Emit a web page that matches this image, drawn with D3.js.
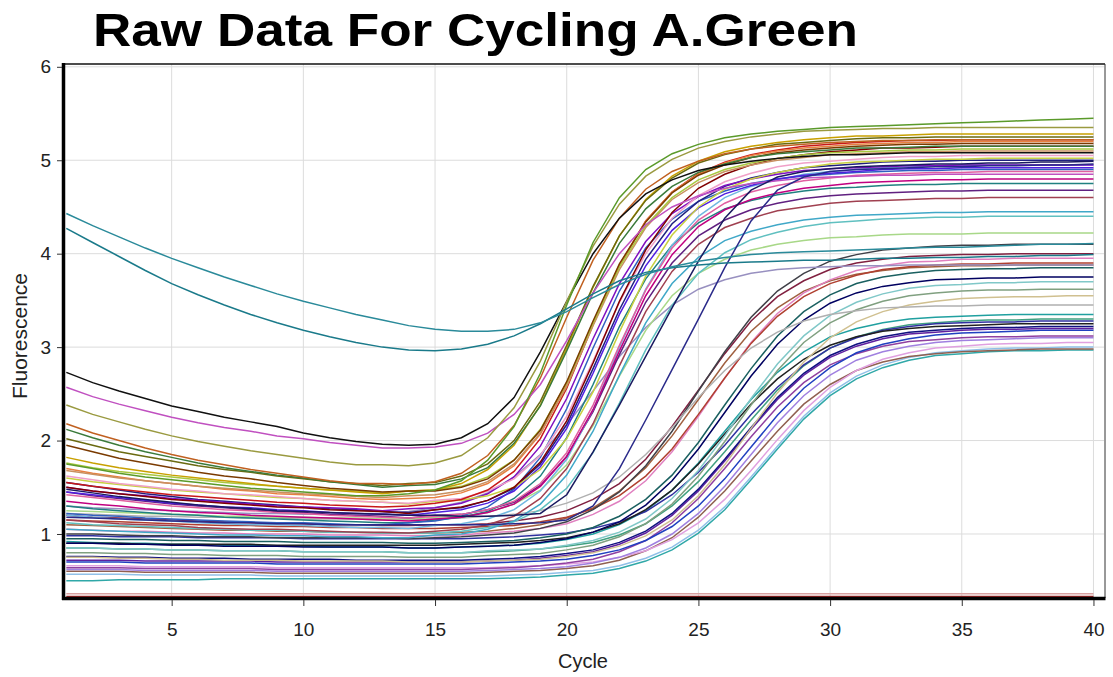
<!DOCTYPE html>
<html><head><meta charset="utf-8">
<script src="https://cdn.jsdelivr.net/npm/d3@7"></script>
<style>body{margin:0;background:#fff}svg{display:block}</style>
</head><body><svg id="c" width="1113" height="677"></svg>
<script>
const cycles=[1,2,3,4,5,6,7,8,9,10,11,12,13,14,15,16,17,18,19,20,21,22,23,24,25,26,27,28,29,30,31,32,33,34,35,36,37,38,39,40];
const xTicks=[5,10,15,20,25,30,35,40];
const yTicks=[1,2,3,4,5,6];
// early amplifying wells
const e01=[1.75,1.70,1.65,1.61,1.58,1.55,1.52,1.49,1.47,1.45,1.43,1.41,1.41,1.43,1.47,1.57,1.79,2.15,2.72,3.45,4.12,4.60,4.90,5.07,5.17,5.24,5.28,5.31,5.33,5.35,5.36,5.37,5.38,5.39,5.40,5.41,5.42,5.43,5.44,5.45];
const e02=[2.38,2.28,2.20,2.12,2.05,1.99,1.94,1.89,1.85,1.81,1.77,1.74,1.74,1.73,1.76,1.84,2.03,2.35,2.85,3.49,4.08,4.53,4.83,5.01,5.13,5.20,5.25,5.28,5.31,5.32,5.33,5.34,5.34,5.35,5.35,5.35,5.35,5.35,5.35,5.35];
const e03=[2.73,2.62,2.53,2.45,2.37,2.31,2.25,2.20,2.15,2.08,2.03,1.99,1.96,1.95,1.96,2.03,2.18,2.46,2.95,3.49,4.00,4.38,4.64,4.79,4.89,4.95,4.99,5.02,5.04,5.06,5.06,5.07,5.08,5.08,5.08,5.08,5.08,5.08,5.08,5.08];
const e04=[2.57,2.47,2.39,2.32,2.25,2.19,2.14,2.10,2.05,2.02,1.98,1.95,1.92,1.92,1.93,1.97,2.08,2.28,2.60,3.07,3.58,4.00,4.31,4.50,4.62,4.70,4.75,4.78,4.81,4.82,4.83,4.84,4.84,4.85,4.85,4.85,4.85,4.85,4.85,4.85];
const e05=[2.18,2.08,2.00,1.92,1.85,1.79,1.74,1.69,1.65,1.61,1.57,1.54,1.54,1.53,1.56,1.65,1.84,2.16,2.67,3.32,3.93,4.38,4.69,4.88,4.99,5.07,5.12,5.15,5.17,5.19,5.20,5.21,5.21,5.22,5.22,5.22,5.22,5.22,5.22,5.22];
const e06=[2.12,2.03,1.95,1.88,1.82,1.76,1.71,1.67,1.63,1.60,1.56,1.53,1.50,1.52,1.53,1.59,1.71,1.97,2.37,2.96,3.58,4.11,4.48,4.72,4.87,4.96,5.03,5.07,5.09,5.11,5.13,5.13,5.14,5.15,5.15,5.15,5.15,5.15,5.15,5.15];
const e07=[2.02,1.95,1.88,1.83,1.78,1.73,1.69,1.66,1.62,1.59,1.56,1.54,1.52,1.54,1.55,1.62,1.75,2.00,2.42,3.02,3.65,4.19,4.57,4.81,4.97,5.06,5.12,5.17,5.19,5.21,5.23,5.24,5.24,5.25,5.25,5.25,5.25,5.25,5.25,5.25];
const e08=[1.95,1.88,1.81,1.76,1.71,1.66,1.62,1.59,1.55,1.52,1.49,1.47,1.45,1.46,1.46,1.50,1.59,1.79,2.11,2.63,3.28,3.89,4.34,4.65,4.84,4.95,5.03,5.08,5.11,5.13,5.15,5.16,5.17,5.17,5.18,5.18,5.18,5.18,5.18,5.18];
const e09=[1.82,1.76,1.71,1.67,1.63,1.60,1.57,1.54,1.51,1.49,1.47,1.45,1.43,1.46,1.47,1.54,1.69,1.95,2.38,2.99,3.64,4.19,4.58,4.83,4.99,5.09,5.15,5.19,5.22,5.24,5.26,5.26,5.27,5.28,5.28,5.28,5.28,5.28,5.28,5.28];
const e10=[1.76,1.71,1.67,1.64,1.61,1.58,1.55,1.53,1.51,1.49,1.47,1.46,1.44,1.46,1.47,1.51,1.61,1.79,2.12,2.62,3.26,3.86,4.30,4.60,4.79,4.90,4.97,5.02,5.06,5.08,5.09,5.10,5.11,5.11,5.12,5.12,5.12,5.12,5.12,5.12];
const e11=[1.70,1.65,1.61,1.57,1.54,1.51,1.48,1.46,1.43,1.42,1.40,1.38,1.37,1.38,1.39,1.44,1.54,1.73,2.07,2.60,3.26,3.88,4.35,4.66,4.85,4.97,5.05,5.10,5.13,5.15,5.17,5.18,5.19,5.19,5.20,5.20,5.20,5.20,5.20,5.20];
const e12=[1.55,1.51,1.48,1.45,1.42,1.40,1.38,1.36,1.34,1.33,1.31,1.30,1.29,1.30,1.33,1.37,1.47,1.67,2.02,2.56,3.24,3.87,4.35,4.66,4.86,4.98,5.06,5.11,5.15,5.17,5.19,5.20,5.21,5.21,5.22,5.22,5.22,5.22,5.22,5.22];
const e13=[1.50,1.46,1.43,1.40,1.37,1.35,1.33,1.31,1.29,1.28,1.26,1.25,1.24,1.22,1.26,1.29,1.36,1.50,1.77,2.21,2.83,3.49,4.04,4.44,4.70,4.85,4.95,5.02,5.06,5.09,5.11,5.13,5.13,5.14,5.15,5.15,5.15,5.15,5.15,5.15];
const e14=[1.50,1.46,1.43,1.41,1.38,1.36,1.34,1.32,1.30,1.29,1.28,1.27,1.25,1.27,1.28,1.33,1.43,1.61,1.94,2.45,3.09,3.68,4.13,4.43,4.61,4.73,4.80,4.85,4.89,4.91,4.92,4.93,4.94,4.94,4.95,4.95,4.95,4.95,4.95,4.95];
const e15=[1.45,1.42,1.39,1.36,1.33,1.31,1.29,1.28,1.26,1.25,1.23,1.22,1.21,1.20,1.23,1.26,1.33,1.46,1.72,2.13,2.72,3.35,3.87,4.25,4.49,4.64,4.73,4.80,4.84,4.86,4.88,4.90,4.91,4.91,4.92,4.92,4.92,4.92,4.92,4.92];
const e16=[1.55,1.51,1.47,1.43,1.40,1.37,1.35,1.33,1.31,1.29,1.27,1.26,1.24,1.23,1.26,1.28,1.36,1.49,1.75,2.17,2.77,3.40,3.94,4.32,4.56,4.72,4.81,4.87,4.92,4.94,4.96,4.98,4.99,4.99,5.00,5.00,5.00,5.00,5.00,5.00];
const e17=[1.42,1.39,1.36,1.33,1.30,1.28,1.26,1.25,1.23,1.22,1.20,1.19,1.18,1.17,1.19,1.21,1.26,1.35,1.54,1.87,2.38,3.02,3.61,4.06,4.36,4.54,4.66,4.73,4.78,4.81,4.84,4.85,4.86,4.87,4.87,4.88,4.88,4.88,4.88,4.88];
const e18=[1.35,1.32,1.30,1.27,1.25,1.23,1.22,1.20,1.19,1.18,1.17,1.16,1.15,1.14,1.16,1.18,1.23,1.32,1.51,1.83,2.33,2.96,3.55,3.99,4.29,4.47,4.58,4.65,4.70,4.73,4.76,4.77,4.78,4.79,4.79,4.80,4.80,4.80,4.80,4.80];
const e19=[1.22,1.20,1.19,1.17,1.16,1.15,1.14,1.13,1.12,1.12,1.11,1.10,1.10,1.12,1.14,1.19,1.29,1.48,1.82,2.34,2.99,3.60,4.06,4.37,4.56,4.67,4.75,4.80,4.83,4.85,4.87,4.88,4.89,4.89,4.90,4.90,4.90,4.90,4.90,4.90];
const e20=[1.20,1.18,1.16,1.15,1.14,1.12,1.11,1.10,1.10,1.09,1.08,1.07,1.07,1.06,1.09,1.11,1.16,1.26,1.46,1.80,2.33,3.00,3.62,4.09,4.40,4.60,4.72,4.79,4.85,4.88,4.90,4.92,4.93,4.94,4.94,4.95,4.95,4.95,4.95,4.95];
const e21=[1.30,1.27,1.25,1.23,1.21,1.20,1.18,1.17,1.16,1.15,1.14,1.13,1.12,1.12,1.15,1.18,1.24,1.38,1.62,2.03,2.60,3.22,3.73,4.09,4.33,4.48,4.57,4.63,4.67,4.70,4.71,4.73,4.74,4.74,4.75,4.75,4.75,4.75,4.75,4.75];
const e22=[1.15,1.13,1.11,1.10,1.09,1.07,1.06,1.05,1.05,1.04,1.03,1.02,1.02,1.01,1.03,1.05,1.10,1.19,1.38,1.70,2.18,2.80,3.38,3.81,4.10,4.28,4.38,4.46,4.50,4.54,4.56,4.57,4.58,4.59,4.59,4.60,4.60,4.60,4.60,4.60];
const e23=[1.05,1.04,1.03,1.02,1.01,1.00,0.99,0.99,0.98,0.98,0.97,0.97,0.96,0.96,0.99,1.00,1.05,1.14,1.32,1.63,2.10,2.70,3.26,3.68,3.96,4.14,4.24,4.31,4.36,4.39,4.41,4.42,4.43,4.44,4.44,4.45,4.45,4.45,4.45,4.45];
const e24=[1.12,1.10,1.09,1.08,1.07,1.06,1.05,1.04,1.04,1.03,1.02,1.02,1.01,1.01,1.01,1.03,1.07,1.13,1.26,1.49,1.87,2.40,2.97,3.45,3.79,4.01,4.15,4.23,4.29,4.33,4.35,4.37,4.38,4.39,4.39,4.40,4.40,4.40,4.40,4.40];
const e25=[1.25,1.24,1.23,1.22,1.21,1.20,1.19,1.19,1.18,1.18,1.17,1.17,1.16,1.16,1.18,1.19,1.23,1.32,1.47,1.74,2.16,2.69,3.18,3.55,3.79,3.94,4.04,4.10,4.14,4.17,4.18,4.20,4.21,4.21,4.21,4.22,4.22,4.22,4.22,4.22];
const e26=[1.30,1.28,1.27,1.26,1.25,1.24,1.23,1.22,1.22,1.21,1.21,1.22,1.22,1.24,1.28,1.34,1.44,1.61,1.85,2.17,2.53,2.90,3.21,3.45,3.62,3.72,3.79,3.83,3.85,3.86,3.87,3.87,3.88,3.88,3.88,3.88,3.88,3.88,3.88,3.88];
const e27=[1.60,1.56,1.53,1.50,1.47,1.45,1.43,1.41,1.39,1.38,1.36,1.35,1.34,1.32,1.35,1.36,1.41,1.50,1.69,2.02,2.52,3.16,3.76,4.20,4.50,4.69,4.80,4.87,4.92,4.96,4.98,4.99,5.00,5.01,5.01,5.02,5.02,5.02,5.02,5.02];
const e28=[1.62,1.58,1.54,1.51,1.48,1.46,1.43,1.42,1.40,1.38,1.36,1.35,1.34,1.33,1.36,1.38,1.46,1.59,1.84,2.26,2.85,3.48,4.00,4.38,4.62,4.77,4.86,4.93,4.97,4.99,5.01,5.03,5.04,5.04,5.05,5.05,5.05,5.05,5.05,5.05];
const e29=[1.68,1.64,1.60,1.57,1.54,1.51,1.49,1.47,1.45,1.43,1.42,1.40,1.39,1.41,1.42,1.46,1.56,1.75,2.08,2.58,3.23,3.83,4.28,4.58,4.76,4.88,4.95,5.00,5.03,5.06,5.07,5.08,5.09,5.09,5.10,5.10,5.10,5.10,5.10,5.10];
const e30=[1.45,1.41,1.38,1.35,1.32,1.30,1.28,1.26,1.24,1.23,1.21,1.20,1.19,1.17,1.20,1.21,1.26,1.34,1.52,1.83,2.31,2.92,3.48,3.90,4.19,4.36,4.47,4.54,4.59,4.62,4.64,4.65,4.66,4.67,4.67,4.68,4.68,4.68,4.68,4.68];
// two high-start teal wells
const t1=[4.43,4.30,4.18,4.06,3.95,3.85,3.75,3.66,3.57,3.49,3.42,3.35,3.29,3.23,3.19,3.17,3.17,3.19,3.26,3.38,3.53,3.67,3.78,3.86,3.92,3.96,3.99,4.01,4.02,4.03,4.04,4.05,4.06,4.07,4.07,4.08,4.09,4.10,4.10,4.11];
const t2=[4.27,4.12,3.97,3.82,3.68,3.56,3.45,3.35,3.26,3.18,3.11,3.05,3.00,2.97,2.96,2.98,3.03,3.12,3.25,3.41,3.57,3.71,3.80,3.85,3.88,3.90,3.91,3.92,3.93,3.93,3.94,3.95,3.95,3.96,3.96,3.97,3.97,3.98,3.98,3.99];
// two navy wells with straight rise
const n1=[1.48,1.44,1.40,1.37,1.34,1.31,1.29,1.27,1.25,1.24,1.23,1.22,1.21,1.20,1.20,1.19,1.19,1.20,1.22,1.42,1.88,2.38,2.90,3.42,3.92,4.38,4.68,4.82,4.88,4.91,4.93,4.94,4.95,4.96,4.96,4.97,4.97,4.98,4.98,4.99];
const n2=[1.18,1.17,1.16,1.15,1.14,1.13,1.12,1.12,1.11,1.11,1.10,1.10,1.10,1.10,1.10,1.10,1.10,1.11,1.12,1.15,1.30,1.70,2.22,2.76,3.30,3.85,4.35,4.68,4.82,4.88,4.90,4.91,4.92,4.93,4.93,4.94,4.94,4.95,4.95,4.96];
// late amplifying wells
const l01=[1.00,1.00,0.99,0.98,0.98,0.97,0.97,0.97,0.96,0.96,0.96,0.96,0.96,0.95,0.96,0.97,0.99,1.01,1.06,1.13,1.26,1.45,1.73,2.10,2.53,2.95,3.32,3.60,3.79,3.92,3.99,4.04,4.06,4.08,4.09,4.09,4.10,4.10,4.10,4.10];
const l02=[1.20,1.18,1.17,1.16,1.15,1.14,1.13,1.12,1.12,1.11,1.10,1.10,1.09,1.09,1.10,1.10,1.11,1.14,1.18,1.25,1.37,1.54,1.80,2.15,2.54,2.93,3.28,3.54,3.71,3.83,3.90,3.94,3.97,3.98,3.99,3.99,4.00,4.00,4.00,4.00];
const l03=[1.05,1.04,1.03,1.03,1.02,1.01,1.01,1.00,1.00,1.00,0.99,0.99,0.99,0.98,0.98,0.99,1.01,1.03,1.06,1.11,1.21,1.35,1.57,1.88,2.26,2.67,3.05,3.36,3.58,3.72,3.82,3.87,3.91,3.92,3.94,3.94,3.95,3.95,3.95,3.95];
const l04=[0.95,0.95,0.94,0.94,0.93,0.93,0.92,0.92,0.92,0.91,0.91,0.91,0.91,0.90,0.90,0.91,0.92,0.93,0.96,1.00,1.07,1.19,1.37,1.63,1.98,2.38,2.77,3.12,3.38,3.56,3.68,3.75,3.79,3.82,3.83,3.84,3.84,3.85,3.85,3.85];
const l05=[1.10,1.09,1.08,1.07,1.06,1.05,1.04,1.04,1.03,1.03,1.02,1.02,1.01,1.01,1.01,1.02,1.03,1.06,1.10,1.17,1.28,1.46,1.71,2.05,2.44,2.83,3.17,3.42,3.60,3.71,3.78,3.82,3.85,3.86,3.87,3.87,3.88,3.88,3.88,3.88];
const l06=[0.90,0.90,0.89,0.89,0.88,0.88,0.87,0.87,0.87,0.86,0.86,0.86,0.86,0.85,0.85,0.86,0.87,0.88,0.91,0.95,1.02,1.13,1.31,1.57,1.91,2.30,2.69,3.03,3.29,3.47,3.58,3.65,3.69,3.72,3.73,3.74,3.74,3.75,3.75,3.75];
const l07=[0.85,0.85,0.84,0.84,0.83,0.83,0.82,0.82,0.82,0.81,0.81,0.81,0.81,0.80,0.80,0.80,0.82,0.83,0.84,0.88,0.93,1.02,1.16,1.38,1.68,2.05,2.45,2.82,3.12,3.34,3.48,3.57,3.63,3.66,3.67,3.69,3.69,3.70,3.70,3.70];
const l08=[0.80,0.80,0.79,0.79,0.78,0.78,0.77,0.77,0.77,0.76,0.76,0.76,0.76,0.75,0.75,0.75,0.77,0.78,0.79,0.83,0.88,0.97,1.11,1.32,1.62,1.99,2.38,2.75,3.05,3.26,3.40,3.49,3.55,3.58,3.60,3.61,3.61,3.62,3.62,3.62];
const l09=[0.75,0.75,0.74,0.74,0.73,0.73,0.72,0.72,0.72,0.71,0.71,0.71,0.71,0.70,0.70,0.70,0.71,0.72,0.73,0.76,0.80,0.87,0.98,1.15,1.41,1.74,2.13,2.51,2.84,3.10,3.27,3.38,3.45,3.49,3.52,3.53,3.54,3.54,3.55,3.55];
const l10=[0.92,0.91,0.90,0.90,0.89,0.89,0.88,0.88,0.87,0.87,0.86,0.86,0.86,0.85,0.85,0.86,0.87,0.88,0.90,0.94,1.00,1.10,1.25,1.47,1.76,2.10,2.44,2.73,2.95,3.11,3.20,3.26,3.30,3.32,3.33,3.34,3.35,3.35,3.35,3.35];
const l11=[0.85,0.85,0.84,0.84,0.83,0.83,0.82,0.82,0.82,0.81,0.81,0.81,0.81,0.80,0.80,0.80,0.81,0.82,0.84,0.87,0.91,0.99,1.11,1.30,1.56,1.88,2.22,2.54,2.80,2.99,3.11,3.19,3.24,3.26,3.28,3.29,3.29,3.30,3.30,3.30];
const l12=[0.76,0.76,0.75,0.75,0.74,0.74,0.74,0.73,0.73,0.73,0.73,0.72,0.72,0.72,0.72,0.72,0.73,0.74,0.76,0.79,0.83,0.91,1.03,1.22,1.48,1.80,2.14,2.46,2.72,2.91,3.03,3.11,3.16,3.18,3.20,3.21,3.21,3.22,3.22,3.22];
const l13=[0.70,0.70,0.70,0.69,0.69,0.69,0.69,0.69,0.68,0.68,0.68,0.68,0.68,0.68,0.68,0.68,0.69,0.70,0.71,0.73,0.77,0.83,0.93,1.08,1.30,1.59,1.93,2.27,2.56,2.78,2.94,3.03,3.09,3.13,3.15,3.16,3.17,3.18,3.18,3.18];
const l14=[0.72,0.72,0.72,0.71,0.71,0.71,0.71,0.71,0.70,0.70,0.70,0.70,0.70,0.70,0.70,0.70,0.71,0.72,0.74,0.77,0.81,0.89,1.01,1.20,1.46,1.78,2.12,2.44,2.70,2.89,3.01,3.09,3.14,3.16,3.18,3.19,3.19,3.20,3.20,3.20];
const l15=[0.62,0.62,0.62,0.61,0.61,0.61,0.61,0.61,0.60,0.60,0.60,0.60,0.60,0.60,0.60,0.60,0.61,0.62,0.63,0.65,0.69,0.75,0.85,1.00,1.22,1.51,1.85,2.19,2.48,2.70,2.86,2.95,3.01,3.05,3.07,3.08,3.09,3.10,3.10,3.10];
const l16=[0.66,0.66,0.66,0.65,0.65,0.65,0.65,0.65,0.64,0.64,0.64,0.64,0.64,0.64,0.64,0.64,0.64,0.65,0.66,0.68,0.70,0.75,0.82,0.94,1.12,1.37,1.68,2.01,2.32,2.57,2.75,2.87,2.94,2.99,3.01,3.03,3.04,3.04,3.05,3.05];
const l17=[0.64,0.64,0.64,0.63,0.63,0.63,0.63,0.63,0.62,0.62,0.62,0.62,0.62,0.62,0.62,0.62,0.63,0.64,0.66,0.69,0.73,0.81,0.93,1.12,1.38,1.70,2.04,2.36,2.62,2.81,2.93,3.01,3.06,3.08,3.10,3.11,3.11,3.12,3.12,3.12];
const l18=[0.57,0.57,0.57,0.56,0.56,0.56,0.56,0.56,0.55,0.55,0.55,0.55,0.55,0.55,0.55,0.55,0.55,0.56,0.57,0.59,0.61,0.66,0.74,0.86,1.04,1.29,1.61,1.94,2.26,2.51,2.69,2.81,2.89,2.94,2.96,2.98,2.99,2.99,3.00,3.00];
const l19=[0.60,0.60,0.60,0.59,0.59,0.59,0.59,0.59,0.58,0.58,0.58,0.58,0.58,0.58,0.58,0.58,0.59,0.60,0.61,0.63,0.66,0.72,0.82,0.96,1.18,1.46,1.78,2.10,2.39,2.60,2.75,2.84,2.90,2.93,2.95,2.96,2.97,2.98,2.98,2.98];
const l20=[0.50,0.50,0.51,0.51,0.51,0.51,0.52,0.52,0.52,0.52,0.52,0.52,0.52,0.52,0.52,0.52,0.52,0.53,0.54,0.56,0.58,0.63,0.71,0.83,1.01,1.26,1.58,1.91,2.23,2.48,2.66,2.78,2.86,2.91,2.93,2.95,2.96,2.96,2.97,2.97];
const l21=[0.90,0.90,0.90,0.89,0.89,0.89,0.89,0.89,0.88,0.88,0.88,0.88,0.88,0.88,0.88,0.89,0.90,0.91,0.93,0.96,1.02,1.11,1.26,1.47,1.75,2.07,2.39,2.66,2.87,3.02,3.11,3.17,3.20,3.22,3.23,3.24,3.25,3.25,3.25,3.25];
const l22=[1.22,1.21,1.20,1.19,1.19,1.18,1.18,1.17,1.17,1.16,1.16,1.16,1.15,1.15,1.16,1.17,1.19,1.21,1.25,1.33,1.44,1.61,1.85,2.14,2.46,2.75,2.99,3.16,3.28,3.35,3.39,3.42,3.43,3.44,3.44,3.45,3.45,3.45,3.45,3.45];
const l23=[0.98,0.98,0.97,0.97,0.97,0.96,0.96,0.96,0.96,0.95,0.95,0.95,0.95,0.95,0.95,0.95,0.96,0.97,0.99,1.01,1.06,1.13,1.24,1.42,1.66,1.95,2.28,2.57,2.81,2.99,3.10,3.18,3.22,3.25,3.26,3.27,3.27,3.28,3.28,3.28];
const l24=[1.15,1.14,1.13,1.12,1.11,1.10,1.09,1.09,1.08,1.08,1.07,1.07,1.06,1.06,1.06,1.07,1.08,1.09,1.13,1.18,1.27,1.41,1.62,1.91,2.28,2.67,3.04,3.33,3.54,3.68,3.77,3.83,3.86,3.88,3.89,3.89,3.90,3.90,3.90,3.90];
// negative controls
const f1=[0.33,0.33,0.33,0.33,0.33,0.33,0.33,0.33,0.33,0.33,0.33,0.33,0.33,0.33,0.33,0.33,0.33,0.33,0.33,0.33,0.33,0.33,0.33,0.33,0.33,0.33,0.33,0.33,0.33,0.33,0.33,0.33,0.33,0.33,0.33,0.33,0.33,0.33,0.33,0.33];
const f2=[0.36,0.36,0.36,0.36,0.36,0.36,0.36,0.36,0.36,0.36,0.36,0.36,0.36,0.36,0.36,0.36,0.36,0.36,0.36,0.36,0.36,0.36,0.36,0.36,0.36,0.36,0.36,0.36,0.36,0.36,0.36,0.36,0.36,0.36,0.36,0.36,0.36,0.36,0.36,0.36];

const series=[
 [f1,"#a02020"],[f2,"#d8a0a0"],
 [l20,"#30a8a8"],[l18,"#90c0e8"],[l19,"#906050"],[l16,"#e0a0e0"],[l15,"#a080e0"],[l17,"#9040a0"],[l13,"#2040c0"],[l14,"#6020a0"],[l12,"#101080"],[l11,"#40a080"],[l10,"#20a0a0"],[l23,"#3030a0"],[l21,"#202020"],[l09,"#d0c090"],[l08,"#80a080"],[l07,"#80c8c8"],[l06,"#000060"],[l04,"#1a6060"],[l05,"#a06040"],[l03,"#e080c0"],[l24,"#b04030"],[l02,"#802040"],[l01,"#404048"],[l22,"#b0b0b0"],
 [e26,"#9890c0"],[e25,"#a8d888"],[e24,"#60c0c0"],[e23,"#40a8c8"],[e22,"#a04050"],[e30,"#602080"],[e21,"#208080"],[e20,"#70b8e0"],[e19,"#3060c0"],[e18,"#c00080"],[e17,"#e060a0"],[e16,"#202080"],[e15,"#5020e0"],[e14,"#8010c0"],[e27,"#c8d040"],[e28,"#f0a0c8"],[e13,"#800000"],[e12,"#c81818"],[e11,"#e88040"],[e29,"#c89060"],[e10,"#a8c840"],[e09,"#c8a000"],[e08,"#7a3a00"],[e07,"#6a6a10"],[e06,"#3a7a3a"],[e05,"#c06020"],[e04,"#c050c0"],[e03,"#101010"],[e02,"#9a9a40"],[e01,"#5a9a2a"],
 [n2,"#2a2a8a"],[n1,"#1a1a60"],[t2,"#1a7a8a"],[t1,"#2a8a9a"]
];

const svg=d3.select("#c");
const L=65,R=1104,T=64,B=598;
const x=d3.scaleLinear().domain([0.95,40.4]).range([L,R]);
const y=d3.scaleLinear().domain([0.315,6.03]).range([B,T]);
const font="'Liberation Sans',Arial,sans-serif";

svg.append("text").attr("x",93).attr("y",46).attr("font-family",font).attr("font-weight","bold").attr("font-size",47)
 .attr("textLength",765).attr("lengthAdjust","spacingAndGlyphs").attr("fill","#000").text("Raw Data For Cycling A.Green");

const g=svg.append("g");
g.selectAll(".vg").data(xTicks).join("line").attr("x1",d=>x(d)).attr("x2",d=>x(d)).attr("y1",T).attr("y2",B).attr("stroke","#dcdcdc").attr("stroke-width",1);
g.selectAll(".hg").data(yTicks).join("line").attr("y1",d=>y(d)).attr("y2",d=>y(d)).attr("x1",L).attr("x2",R).attr("stroke","#dcdcdc").attr("stroke-width",1);

svg.append("defs").append("clipPath").attr("id","clip").append("rect").attr("x",L).attr("y",T).attr("width",R-L).attr("height",B-T);
const line=d3.line().x((d,i)=>x(cycles[i])).y(d=>y(d));
svg.append("g").attr("clip-path","url(#clip)").selectAll("path").data(series).join("path")
 .attr("d",d=>line(d[0])).attr("fill","none").attr("stroke",d=>d[1]).attr("stroke-width",1.5);

// frame
svg.append("line").attr("x1",L).attr("x2",R+1).attr("y1",T).attr("y2",T).attr("stroke","#111").attr("stroke-width",1.5);
svg.append("line").attr("x1",R+1).attr("x2",R+1).attr("y1",T).attr("y2",B).attr("stroke","#333").attr("stroke-width",1);
svg.append("line").attr("x1",L-1.5).attr("x2",L-1.5).attr("y1",T-1).attr("y2",B+2).attr("stroke","#000").attr("stroke-width",3.5);
svg.append("line").attr("x1",L-3).attr("x2",R+1.5).attr("y1",B+0.5).attr("y2",B+0.5).attr("stroke","#000").attr("stroke-width",3.5);

// axes
const ya=d3.axisLeft(y).tickValues(yTicks).tickSize(5).tickPadding(6).tickFormat(d3.format("d"));
const yg=svg.append("g").attr("transform",`translate(${L-3},0)`).call(ya);
const xa=d3.axisBottom(x).tickValues(xTicks).tickSize(6).tickPadding(17).tickFormat(d3.format("d"));
const xg=svg.append("g").attr("transform",`translate(0,${B+2})`).call(xa);
[yg,xg].forEach(a=>{a.select(".domain").remove();a.selectAll("line").attr("stroke","#333");a.selectAll("text").attr("font-family",font).attr("font-size",19).attr("fill","#222");});

svg.append("text").attr("x",583).attr("y",668).attr("text-anchor","middle").attr("font-family",font).attr("font-size",20).attr("fill","#222").text("Cycle");
svg.append("text").attr("transform","translate(27,336) rotate(-90)").attr("text-anchor","middle").attr("font-family",font).attr("font-size",21).attr("fill","#222").text("Fluorescence");
</script></body></html>
